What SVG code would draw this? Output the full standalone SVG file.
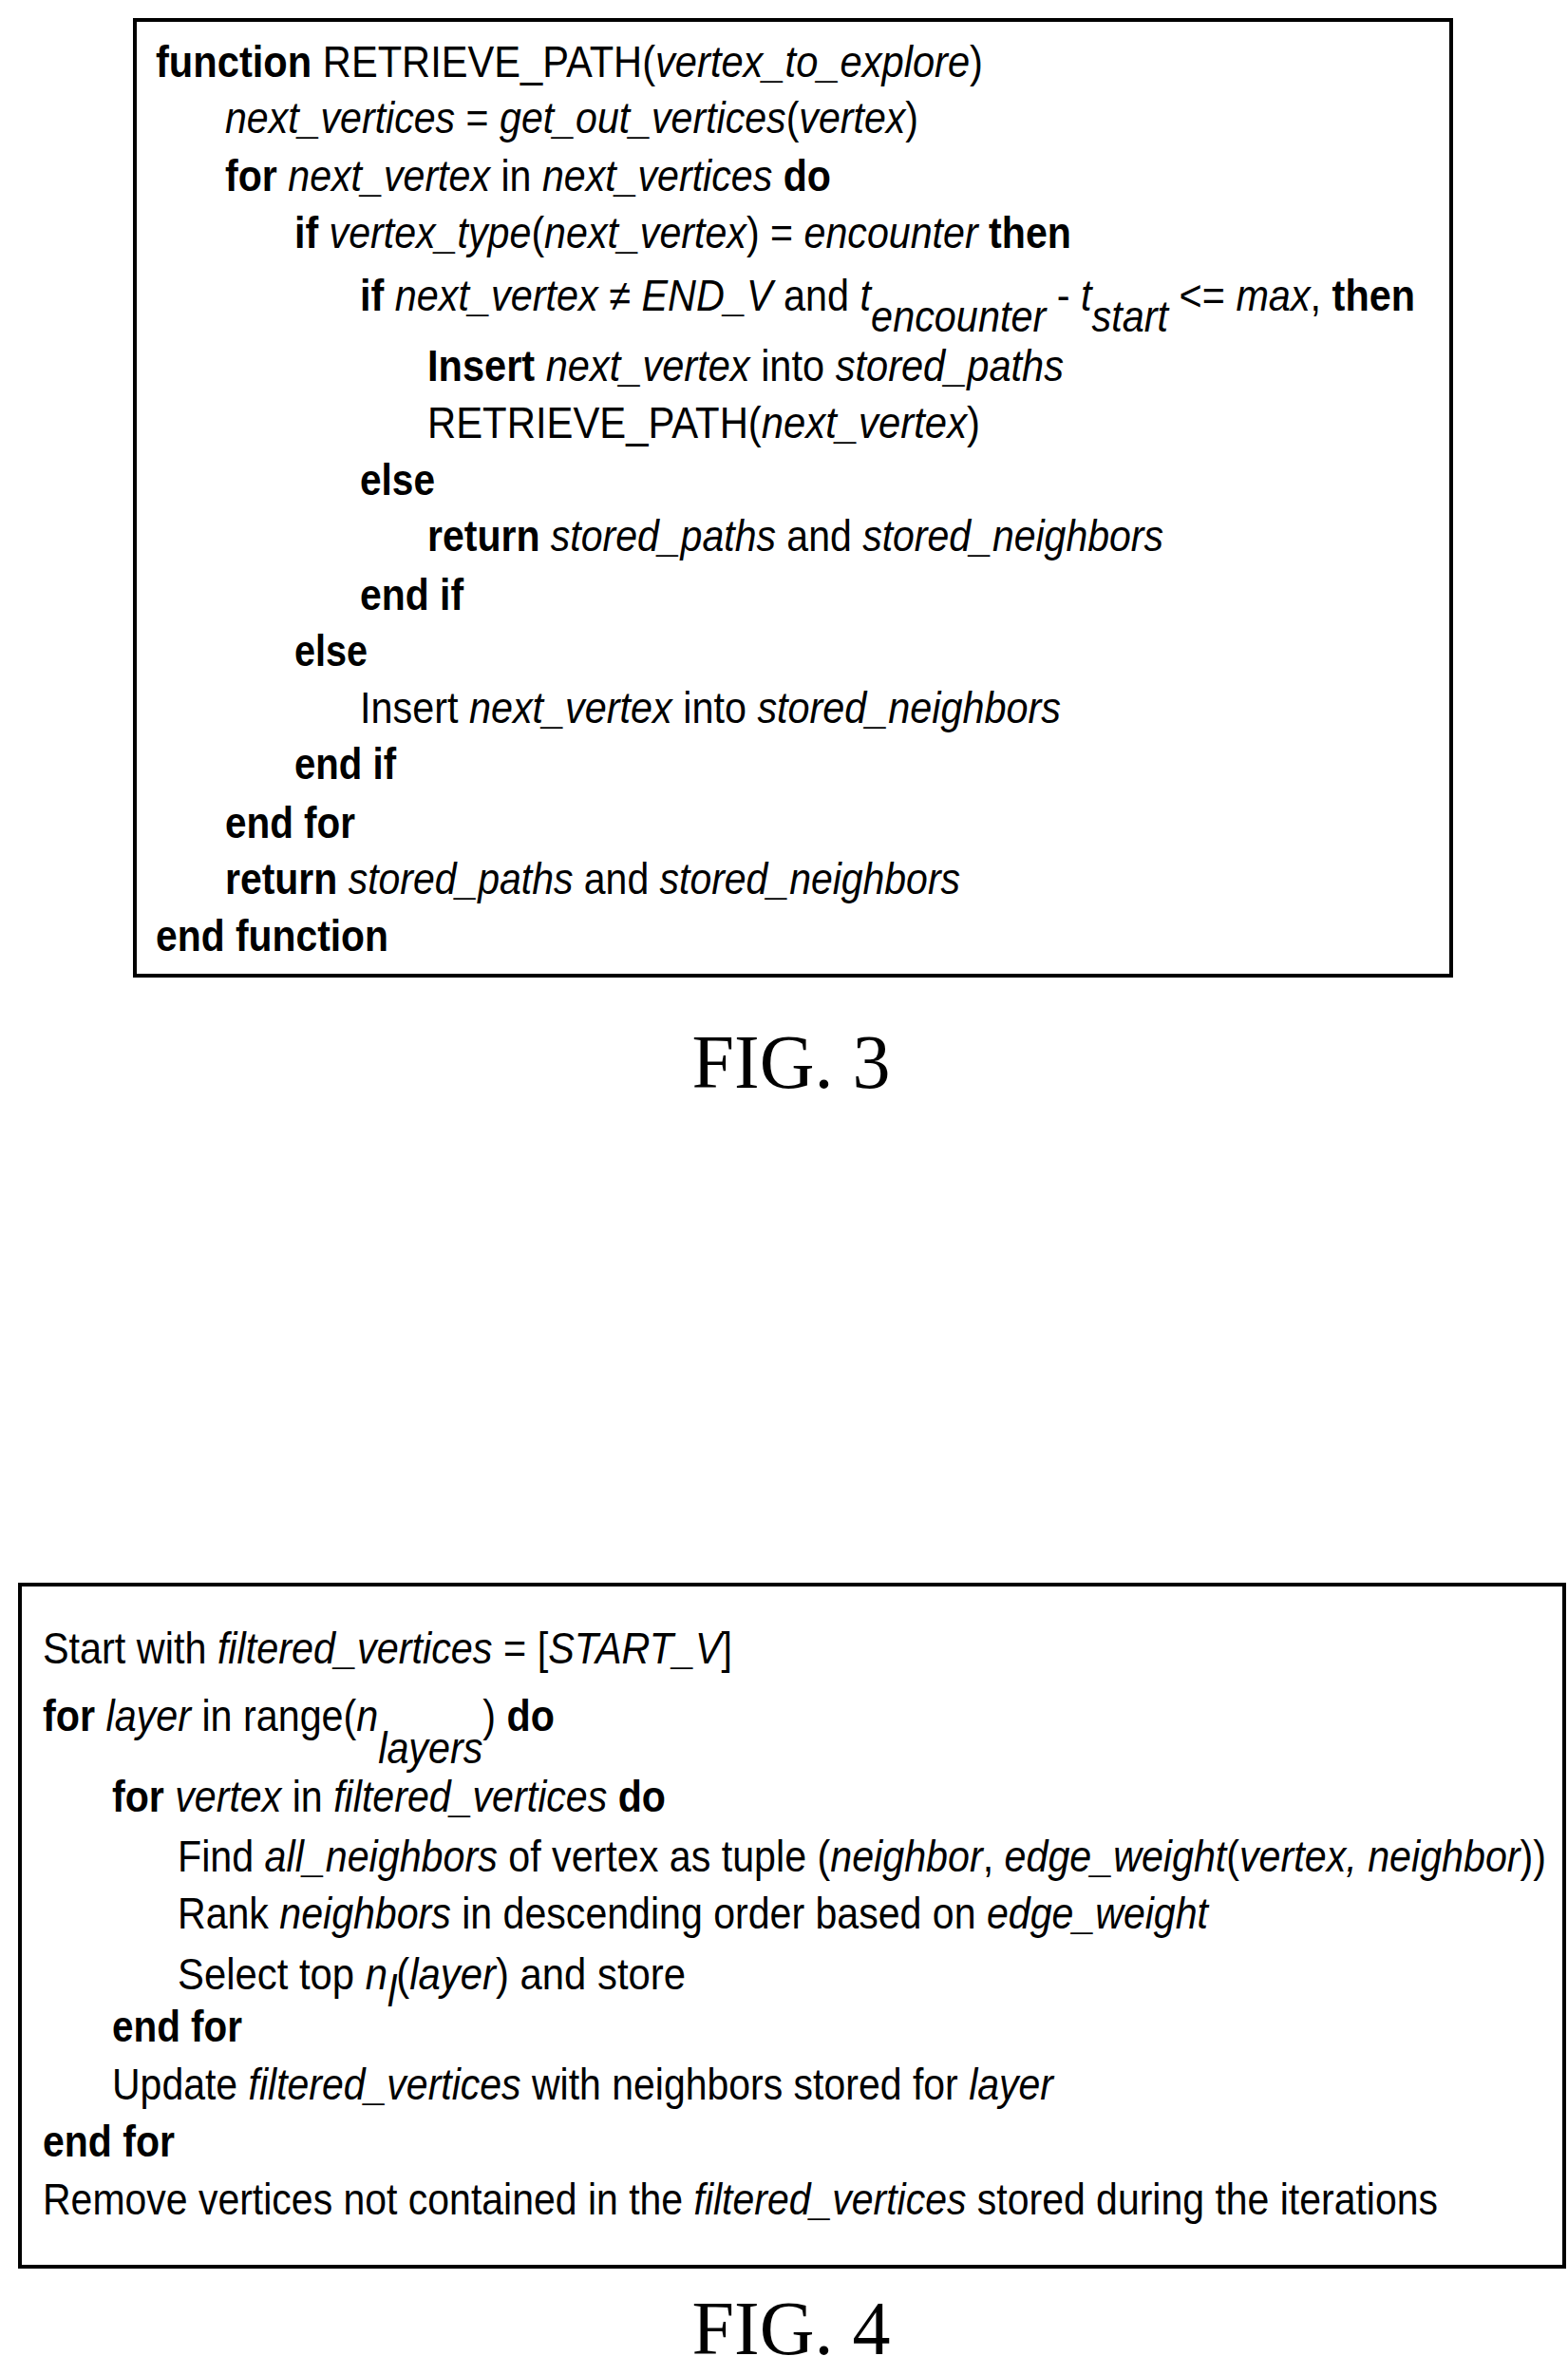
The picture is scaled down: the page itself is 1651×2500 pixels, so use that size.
<svg xmlns="http://www.w3.org/2000/svg" width="1651" height="2500" viewBox="0 0 1651 2500">
<style>
.t{font-family:"Liberation Sans",Arial,sans-serif;font-size:46px;fill:#000}
.b{font-weight:bold}
.i{font-style:italic}
.s{font-size:42px}
.cap{font-family:"Liberation Serif","Times New Roman",serif;font-size:80px;fill:#000;text-anchor:middle}
.box{fill:#fff;stroke:#000;stroke-width:4}
</style>
<rect width="1651" height="2500" fill="#fff"/>
<g id="fig3">
<rect class="box" x="142" y="21" width="1386" height="1006"/>
<text class="t" x="164" y="81" textLength="871" lengthAdjust="spacingAndGlyphs"><tspan class="b">function</tspan> RETRIEVE_PATH(<tspan class="i">vertex_to_explore</tspan>)</text>
<text class="t" x="237" y="140" textLength="730" lengthAdjust="spacingAndGlyphs"><tspan class="i">next_vertices</tspan> = <tspan class="i">get_out_vertices</tspan>(<tspan class="i">vertex</tspan>)</text>
<text class="t" x="237" y="201" textLength="638" lengthAdjust="spacingAndGlyphs"><tspan class="b">for</tspan> <tspan class="i">next_vertex</tspan> in <tspan class="i">next_vertices</tspan> <tspan class="b">do</tspan></text>
<text class="t" x="310" y="261" textLength="818" lengthAdjust="spacingAndGlyphs"><tspan class="b">if</tspan> <tspan class="i">vertex_type</tspan>(<tspan class="i">next_vertex</tspan>) = <tspan class="i">encounter</tspan> <tspan class="b">then</tspan></text>
<text class="t" x="379" y="327" textLength="1111" lengthAdjust="spacingAndGlyphs"><tspan class="b">if</tspan> <tspan class="i">next_vertex</tspan> ≠ <tspan class="i">END_V</tspan> and <tspan class="i">t</tspan><tspan class="i" dy="22">encounter</tspan><tspan dy="-22"> - </tspan><tspan class="i">t</tspan><tspan class="i" dy="22">start</tspan><tspan dy="-22"> &lt;= </tspan><tspan class="i">max</tspan>, <tspan class="b">then</tspan></text>
<text class="t" x="450" y="401" textLength="670" lengthAdjust="spacingAndGlyphs"><tspan class="b">Insert</tspan> <tspan class="i">next_vertex</tspan> into <tspan class="i">stored_paths</tspan></text>
<text class="t" x="450" y="461" textLength="582" lengthAdjust="spacingAndGlyphs">RETRIEVE_PATH(<tspan class="i">next_vertex</tspan>)</text>
<text class="t b" x="379" y="521" textLength="79" lengthAdjust="spacingAndGlyphs">else</text>
<text class="t" x="450" y="580" textLength="775" lengthAdjust="spacingAndGlyphs"><tspan class="b">return</tspan> <tspan class="i">stored_paths</tspan> and <tspan class="i">stored_neighbors</tspan></text>
<text class="t b" x="379" y="642" textLength="109" lengthAdjust="spacingAndGlyphs">end if</text>
<text class="t b" x="310" y="701" textLength="77" lengthAdjust="spacingAndGlyphs">else</text>
<text class="t" x="379" y="761" textLength="738" lengthAdjust="spacingAndGlyphs">Insert <tspan class="i">next_vertex</tspan> into <tspan class="i">stored_neighbors</tspan></text>
<text class="t b" x="310" y="820" textLength="107" lengthAdjust="spacingAndGlyphs">end if</text>
<text class="t b" x="237" y="882" textLength="137" lengthAdjust="spacingAndGlyphs">end for</text>
<text class="t" x="237" y="941" textLength="774" lengthAdjust="spacingAndGlyphs"><tspan class="b">return</tspan> <tspan class="i">stored_paths</tspan> and <tspan class="i">stored_neighbors</tspan></text>
<text class="t b" x="164" y="1001" textLength="245" lengthAdjust="spacingAndGlyphs">end function</text>
</g>
<text class="cap" x="833" y="1145">FIG. 3</text>
<g id="fig4">
<rect class="box" x="21" y="1668" width="1626" height="718"/>
<text class="t" x="45" y="1751" textLength="726" lengthAdjust="spacingAndGlyphs">Start with <tspan class="i">filtered_vertices</tspan> = [<tspan class="i">START_V</tspan>]</text>
<text class="t" x="45" y="1822" textLength="539" lengthAdjust="spacingAndGlyphs"><tspan class="b">for</tspan> <tspan class="i">layer</tspan> in range(<tspan class="i">n</tspan><tspan class="i" dy="34">layers</tspan><tspan dy="-34">) </tspan><tspan class="b">do</tspan></text>
<text class="t" x="118" y="1907" textLength="583" lengthAdjust="spacingAndGlyphs"><tspan class="b">for</tspan> <tspan class="i">vertex</tspan> in <tspan class="i">filtered_vertices</tspan> <tspan class="b">do</tspan></text>
<text class="t" x="187" y="1970" textLength="1441" lengthAdjust="spacingAndGlyphs">Find <tspan class="i">all_neighbors</tspan> of vertex as tuple (<tspan class="i">neighbor</tspan>, <tspan class="i">edge_weight</tspan>(<tspan class="i">vertex, neighbor</tspan>))</text>
<text class="t" x="187" y="2030" textLength="1085" lengthAdjust="spacingAndGlyphs">Rank <tspan class="i">neighbors</tspan> in descending order based on <tspan class="i">edge_weight</tspan></text>
<text class="t" x="187" y="2094" textLength="535" lengthAdjust="spacingAndGlyphs">Select top <tspan class="i">n</tspan><tspan class="i" dy="18">l</tspan><tspan dy="-18">(</tspan><tspan class="i">layer</tspan>) and store</text>
<text class="t b" x="118" y="2149" textLength="137" lengthAdjust="spacingAndGlyphs">end for</text>
<text class="t" x="118" y="2210" textLength="991" lengthAdjust="spacingAndGlyphs">Update <tspan class="i">filtered_vertices</tspan> with neighbors stored for <tspan class="i">layer</tspan></text>
<text class="t b" x="45" y="2270" textLength="139" lengthAdjust="spacingAndGlyphs">end for</text>
<text class="t" x="45" y="2331" textLength="1469" lengthAdjust="spacingAndGlyphs">Remove vertices not contained in the <tspan class="i">filtered_vertices</tspan> stored during the iterations</text>
</g>
<text class="cap" x="833" y="2478">FIG. 4</text>
</svg>
